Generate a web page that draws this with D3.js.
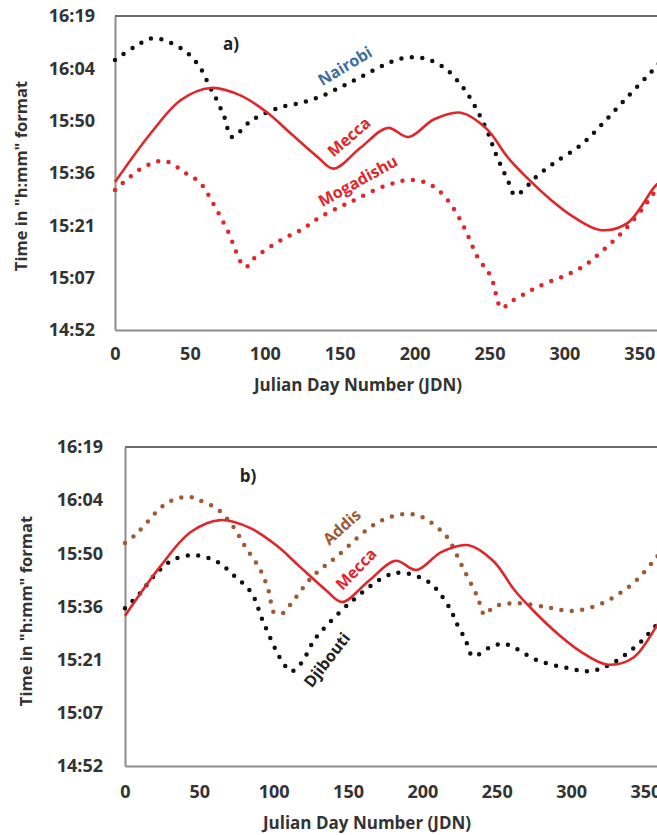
<!DOCTYPE html>
<html>
<head>
<meta charset="utf-8">
<script src="https://cdn.jsdelivr.net/npm/d3@7"></script>
<style>
  body { margin: 0; background: #fff; }
  svg { font-family: "Open Sans", sans-serif; }
</style>
</head>
<body>
<script>
// Time axis: Excel fractional day 0.62 .. 0.68, shown in minutes after midnight
const yTicks = [892.8, 907.2, 921.6, 936, 950.4, 964.8, 979.2];
const yTickLabels = ["14:52", "15:07", "15:21", "15:36", "15:50", "16:04", "16:19"];
const xTicks = [0, 50, 100, 150, 200, 250, 300, 350];

// Mecca (shared by both panels)
const meccaDays = [0, 24, 44, 64, 84, 102, 117, 135, 146, 164, 182, 196, 213, 231, 248, 262, 276, 291, 306, 324, 342, 360, 365];
const meccaMins = [933.5, 947, 956.1, 959.4, 957.3, 952.5, 947, 940.5, 937.2, 943, 948.4, 945.9, 950.8, 952.6, 948.2, 940.4, 934.3, 928.6, 923.9, 920.3, 922.2, 932.1, 934];

// Panel a)
const nairobiDays = [0, 13, 26, 46, 57, 63, 67, 73, 78, 89, 95, 109, 124, 137, 151, 164, 178, 192, 206, 220, 231, 239, 249, 254, 263, 267, 276, 281, 293, 311, 326, 342, 358, 365];
const nairobiMins = [967.1, 970.7, 973.1, 969.8, 964.9, 959.9, 956.9, 951.4, 945.9, 949.8, 951.4, 953.9, 955.3, 957, 959.7, 962.4, 965.4, 967.6, 967.6, 964.9, 960.2, 955.3, 947, 941.5, 933.2, 929.9, 932.7, 934.9, 938.7, 943.7, 949.8, 956.9, 963.8, 967];

const mogadishuDays = [0, 19, 33, 47, 57, 65, 75, 87, 93, 111, 124, 137, 157, 182, 198, 211, 222, 233, 242, 251, 258, 264, 282, 311, 326, 340, 353, 360, 365];
const mogadishuMins = [931.3, 937.6, 939.3, 936, 933.2, 928, 920.3, 910.1, 912.6, 917.6, 920.3, 923.9, 928, 932.7, 934.1, 932.7, 928.6, 921.1, 912.9, 907.4, 898.8, 900.5, 904.6, 909.9, 914.8, 920.3, 926.6, 930.5, 931.5];

// Panel b)
const addisDays = [0, 7, 12, 28, 42, 50, 63, 73, 81, 91, 97, 100, 106, 111, 124, 131, 142, 165, 178, 190, 200, 212, 217, 227, 237, 242, 248, 264, 286, 301, 321, 342, 356, 365];
const addisMins = [953.2, 955.4, 957.5, 964, 965.7, 964.8, 962.1, 957.5, 952.1, 945.9, 939.7, 934.5, 934.2, 936.4, 943.2, 945.9, 949.4, 957.5, 960.2, 961.1, 960.2, 956.7, 954.6, 946.7, 938.6, 933.7, 935.9, 936.9, 935.6, 934.8, 936.9, 942.4, 948.6, 953];

const djiboutiDays = [0, 10, 20, 32, 47, 62, 73, 85, 93, 106, 112, 119, 126, 131, 151, 176, 187, 205, 219, 222, 229, 234, 247, 256, 277, 298, 313, 328, 346, 356, 365];
const djiboutiMins = [935.5, 939.5, 944.5, 948.6, 949.9, 948.1, 944.5, 939.7, 931.8, 920.9, 918.5, 920.9, 926.1, 928.8, 936.9, 944.3, 945.1, 942.4, 935.1, 932.3, 926.9, 922.6, 925.3, 925.8, 921.5, 919.3, 918.5, 920.7, 926.1, 930.4, 934];

const width = 657, height = 835;
const red = "#e0262b";
const brown = "#9e5a34";

const svg = d3.select("body").append("svg")
    .attr("width", width)
    .attr("height", height);

function drawPanel(p) {
    let x = d3.scaleLinear().domain([0, 365]).range([p.left, p.left + 365 * p.pxPerDay]);
    let y = d3.scaleLinear().domain([892.8, 979.2]).range([p.bottom, p.top]);

    // frame: top border, left and bottom axis lines
    svg.append("line")
        .attr("x1", p.left).attr("x2", width)
        .attr("y1", p.top).attr("y2", p.top)
        .attr("stroke", "#6b6b6b").attr("stroke-width", 2);

    let xAxis = svg.append("g")
        .attr("class", "axis")
        .attr("transform", `translate(0,${p.bottom})`)
        .call(d3.axisBottom(x).tickValues(xTicks).tickSize(0).tickPadding(p.xPad));
    xAxis.select(".domain").attr("stroke", "#8c8c8c").attr("stroke-width", 2);

    let yAxis = svg.append("g")
        .attr("class", "axis")
        .attr("transform", `translate(${p.left},0)`)
        .call(d3.axisLeft(y).tickValues(yTicks).tickSize(0).tickPadding(p.yPad)
            .tickFormat((d, i) => yTickLabels[i]));
    yAxis.select(".domain").attr("stroke", "#8c8c8c").attr("stroke-width", 2);

    svg.selectAll(".tick text")
        .attr("font-family", "Open Sans, sans-serif")
        .attr("font-size", 18)
        .attr("font-weight", 700)
        .attr("fill", "#333");

    // axis titles
    svg.append("text")
        .attr("x", p.xTitleX).attr("y", p.xTitleY)
        .attr("text-anchor", "middle")
        .attr("font-size", 17).attr("font-weight", 700).attr("fill", "#333")
        .text("Julian Day Number (JDN)");

    svg.append("text")
        .attr("transform", `translate(${p.yTitleX},${p.yTitleY}) rotate(-90)`)
        .attr("text-anchor", "middle")
        .attr("font-size", 16.5).attr("font-weight", 700).attr("fill", "#333")
        .text('Time in "h:mm" format');

    let line = d3.line()
        .x(d => x(d[0]))
        .y(d => y(d[1]))
        .curve(d3.curveCatmullRom.alpha(0.5));

    p.series.forEach(s => {
        let pts = s.days.map((d, i) => [d, s.mins[i]]);
        let path = svg.append("path")
            .datum(pts)
            .attr("d", line)
            .attr("fill", "none")
            .attr("stroke", s.color);
        if (s.dotted) {
            path.attr("stroke-width", 4.5)
                .attr("stroke-linecap", "round")
                .attr("stroke-dasharray", "0 10.5");
        } else {
            path.attr("stroke-width", 2.6);
        }
    });

    // panel letter and series labels
    svg.append("text")
        .attr("x", p.letter[0]).attr("y", p.letter[1])
        .attr("text-anchor", "middle")
        .attr("font-size", 17).attr("font-weight", 700).attr("fill", "#222")
        .text(p.letter[2]);

    p.labels.forEach(l => {
        svg.append("text")
            .attr("transform", `translate(${l.x},${l.y}) rotate(${l.angle})`)
            .attr("text-anchor", "middle")
            .attr("dy", "0.35em")
            .attr("font-size", 16).attr("font-weight", 700)
            .attr("fill", l.color)
            .text(l.text);
    });
}

drawPanel({
    left: 115, top: 16, bottom: 330, pxPerDay: 1.498,
    xPad: 17, yPad: 20,
    xTitleX: 358, xTitleY: 391, yTitleX: 27, yTitleY: 176,
    letter: [231, 50, "a)"],
    series: [
        { days: nairobiDays, mins: nairobiMins, color: "#111", dotted: true },
        { days: mogadishuDays, mins: mogadishuMins, color: red, dotted: true },
        { days: meccaDays, mins: meccaMins, color: red, dotted: false }
    ],
    labels: [
        { text: "Nairobi", x: 345, y: 66, angle: -31, color: "#3d6d9a" },
        { text: "Mecca", x: 349, y: 137, angle: -41, color: red },
        { text: "Mogadishu", x: 358, y: 181, angle: -29, color: red }
    ]
});

drawPanel({
    left: 125, top: 447, bottom: 766, pxPerDay: 1.487,
    xPad: 19, yPad: 22,
    xTitleX: 367, xTitleY: 829, yTitleX: 32, yTitleY: 611,
    letter: [248, 482, "b)"],
    series: [
        { days: addisDays, mins: addisMins, color: brown, dotted: true },
        { days: djiboutiDays, mins: djiboutiMins, color: "#111", dotted: true },
        { days: meccaDays, mins: meccaMins, color: red, dotted: false }
    ],
    labels: [
        { text: "Addis", x: 342, y: 527, angle: -42, color: brown },
        { text: "Mecca", x: 356, y: 569, angle: -46, color: red },
        { text: "Djibouti", x: 327, y: 660, angle: -52, color: "#222" }
    ]
});
</script>
</body>
</html>
